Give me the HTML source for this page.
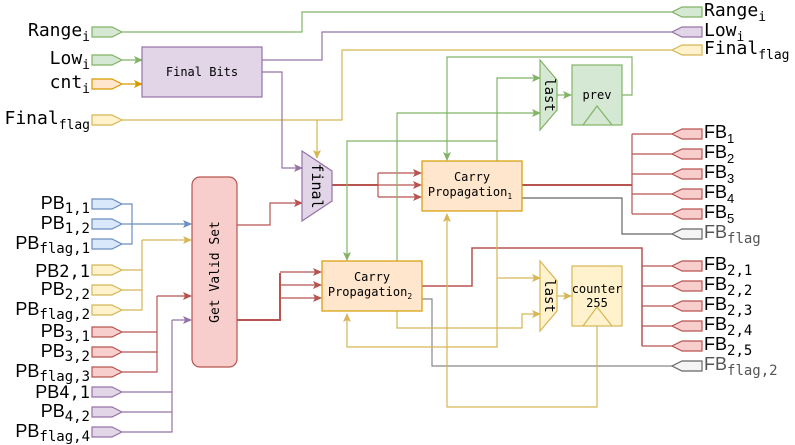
<!DOCTYPE html>
<html><head><meta charset="utf-8"><style>
html,body{margin:0;padding:0;background:#fff;}
svg{display:block;}
.m{font-family:"DejaVu Sans Mono","Liberation Mono",monospace;}
.s{font-family:"Liberation Sans","DejaVu Sans",sans-serif;}
</style></head><body>
<svg width="795" height="445" viewBox="0 0 795 445" xmlns="http://www.w3.org/2000/svg">
<defs>
<marker id="ag" markerWidth="10" markerHeight="10" refX="8" refY="5" orient="auto" markerUnits="userSpaceOnUse"><path d="M0,1 L9,5 L0,9 L2,5z" fill="#82b366"/></marker>
<marker id="ap" markerWidth="10" markerHeight="10" refX="8" refY="5" orient="auto" markerUnits="userSpaceOnUse"><path d="M0,1 L9,5 L0,9 L2,5z" fill="#9673a6"/></marker>
<marker id="ao" markerWidth="10" markerHeight="10" refX="8" refY="5" orient="auto" markerUnits="userSpaceOnUse"><path d="M0,1 L9,5 L0,9 L2,5z" fill="#d79b00"/></marker>
<marker id="ay" markerWidth="10" markerHeight="10" refX="8" refY="5" orient="auto" markerUnits="userSpaceOnUse"><path d="M0,1 L9,5 L0,9 L2,5z" fill="#d6b656"/></marker>
<marker id="ar" markerWidth="10" markerHeight="10" refX="8" refY="5" orient="auto" markerUnits="userSpaceOnUse"><path d="M0,1 L9,5 L0,9 L2,5z" fill="#b85450"/></marker>
<marker id="ab" markerWidth="10" markerHeight="10" refX="8" refY="5" orient="auto" markerUnits="userSpaceOnUse"><path d="M0,1 L9,5 L0,9 L2,5z" fill="#6c8ebf"/></marker>
</defs>

<g fill="none" stroke-width="1.2">
<path d="M122,32 H302 V12 H672" stroke="#82b366"/>
<path d="M262,60 H322 V32 H672" stroke="#9673a6"/>
<path d="M122,60 H142" stroke="#82b366" marker-end="url(#ag)"/>
<path d="M122,84 H142" stroke="#d79b00" marker-end="url(#ao)"/>
<path d="M122,120 H342 V50 H672" stroke="#d6b656"/>
<path d="M317,120 V158" stroke="#d6b656" marker-end="url(#ay)"/>
<path d="M262,72 H282 V168 H302" stroke="#9673a6" marker-end="url(#ap)"/>
<path d="M237,225 H270 V203 H302" stroke="#b85450" marker-end="url(#ar)"/>
<path d="M332,185 H378" stroke="#b85450" stroke-width="2"/>
<path d="M378,173 V197" stroke="#b85450"/>
<path d="M378,173 H421" stroke="#b85450" marker-end="url(#ar)"/>
<path d="M378,185 H421" stroke="#b85450" marker-end="url(#ar)"/>
<path d="M378,197 H421" stroke="#b85450" marker-end="url(#ar)"/>
<path d="M237,320 H280 V273" stroke="#b85450" stroke-width="2"/>
<path d="M280,272 H321" stroke="#b85450" marker-end="url(#ar)"/>
<path d="M280,285 H321" stroke="#b85450" marker-end="url(#ar)"/>
<path d="M280,298 H321" stroke="#b85450" marker-end="url(#ar)"/>
<path d="M622,95 H632 V57 H447 V160" stroke="#82b366" marker-end="url(#ag)"/>
<path d="M497,161 V78 H540" stroke="#82b366" marker-end="url(#ag)"/>
<path d="M497,141 H347 V260" stroke="#82b366" marker-end="url(#ag)"/>
<path d="M397,261 V113 H540" stroke="#82b366" marker-end="url(#ag)"/>
<path d="M557,95 H571" stroke="#82b366" marker-end="url(#ag)"/>
<path d="M522,185 H632" stroke="#b85450" stroke-width="2"/>
<path d="M632,134 V214 M632,134 H672 M632,154 H672 M632,174 H672 M632,194 H672 M632,214 H672" stroke="#b85450"/>
<path d="M522,198 H622 V234 H672" stroke="#666"/>
<path d="M422,286 H472 V248 H642 V346" stroke="#b85450" stroke-width="1.5"/>
<path d="M642,266 H672 M642,286 H672 M642,306 H672 M642,326 H672 M642,346 H672" stroke="#b85450"/>
<path d="M422,299 H432 V366 H672" stroke="#888"/>
<path d="M497,211 V347 H347 V314" stroke="#d6b656" marker-end="url(#ay)"/>
<path d="M497,278 H540" stroke="#d6b656" marker-end="url(#ay)"/>
<path d="M397,311 V328 H522 V314 H540" stroke="#d6b656" marker-end="url(#ay)"/>
<path d="M597,326 V407 H447 V214" stroke="#d6b656" marker-end="url(#ay)"/>
<path d="M557,296 H571" stroke="#d6b656" marker-end="url(#ay)"/>
<path d="M122,204 H132 V244 H122" stroke="#6c8ebf"/>
<path d="M132,224 H191" stroke="#6c8ebf" marker-end="url(#ab)"/>
<path d="M122,224 H132" stroke="#6c8ebf"/>
<path d="M122,270 H142 V310 H122 M122,290 H142 M142,240 V270" stroke="#d6b656"/>
<path d="M142,240 H191" stroke="#d6b656" marker-end="url(#ay)"/>
<path d="M122,332 H157 V372 H122 M122,352 H157 M157,296 V332" stroke="#b85450"/>
<path d="M157,296 H191" stroke="#b85450" marker-end="url(#ar)"/>
<path d="M122,392 H172 V432 H122 M122,412 H172 M172,320 V392" stroke="#9673a6"/>
<path d="M172,320 H191" stroke="#9673a6" marker-end="url(#ap)"/>
</g>

<g stroke-width="1.2">
<path d="M92,27 H112 L122,32 L112,37 H92z" fill="#d5e8d4" stroke="#82b366"/>
<path d="M92,55 H112 L122,60 L112,65 H92z" fill="#d5e8d4" stroke="#82b366"/>
<path d="M92,79 H112 L122,84 L112,89 H92z" fill="#ffe6cc" stroke="#d79b00"/>
<path d="M92,115 H112 L122,120 L112,125 H92z" fill="#fff2cc" stroke="#d6b656"/>
<path d="M92,199 H112 L122,204 L112,209 H92z" fill="#dae8fc" stroke="#6c8ebf"/>
<path d="M92,219 H112 L122,224 L112,229 H92z" fill="#dae8fc" stroke="#6c8ebf"/>
<path d="M92,239 H112 L122,244 L112,249 H92z" fill="#dae8fc" stroke="#6c8ebf"/>
<path d="M92,265 H112 L122,270 L112,275 H92z" fill="#fff2cc" stroke="#d6b656"/>
<path d="M92,285 H112 L122,290 L112,295 H92z" fill="#fff2cc" stroke="#d6b656"/>
<path d="M92,305 H112 L122,310 L112,315 H92z" fill="#fff2cc" stroke="#d6b656"/>
<path d="M92,327 H112 L122,332 L112,337 H92z" fill="#f8cecc" stroke="#b85450"/>
<path d="M92,347 H112 L122,352 L112,357 H92z" fill="#f8cecc" stroke="#b85450"/>
<path d="M92,367 H112 L122,372 L112,377 H92z" fill="#f8cecc" stroke="#b85450"/>
<path d="M92,387 H112 L122,392 L112,397 H92z" fill="#e1d5e7" stroke="#9673a6"/>
<path d="M92,407 H112 L122,412 L112,417 H92z" fill="#e1d5e7" stroke="#9673a6"/>
<path d="M92,427 H112 L122,432 L112,437 H92z" fill="#e1d5e7" stroke="#9673a6"/>
</g>
<g stroke-width="1.2">
<path d="M702,7 H682 L672,12 L682,17 H702z" fill="#d5e8d4" stroke="#82b366"/>
<path d="M702,27 H682 L672,32 L682,37 H702z" fill="#e1d5e7" stroke="#9673a6"/>
<path d="M702,45 H682 L672,50 L682,55 H702z" fill="#fff2cc" stroke="#d6b656"/>
<path d="M702,129 H682 L672,134 L682,139 H702z" fill="#f8cecc" stroke="#b85450"/>
<path d="M702,149 H682 L672,154 L682,159 H702z" fill="#f8cecc" stroke="#b85450"/>
<path d="M702,169 H682 L672,174 L682,179 H702z" fill="#f8cecc" stroke="#b85450"/>
<path d="M702,189 H682 L672,194 L682,199 H702z" fill="#f8cecc" stroke="#b85450"/>
<path d="M702,209 H682 L672,214 L682,219 H702z" fill="#f8cecc" stroke="#b85450"/>
<path d="M702,229 H682 L672,234 L682,239 H702z" fill="#f5f5f5" stroke="#666"/>
<path d="M702,261 H682 L672,266 L682,271 H702z" fill="#f8cecc" stroke="#b85450"/>
<path d="M702,281 H682 L672,286 L682,291 H702z" fill="#f8cecc" stroke="#b85450"/>
<path d="M702,301 H682 L672,306 L682,311 H702z" fill="#f8cecc" stroke="#b85450"/>
<path d="M702,321 H682 L672,326 L682,331 H702z" fill="#f8cecc" stroke="#b85450"/>
<path d="M702,341 H682 L672,346 L682,351 H702z" fill="#f8cecc" stroke="#b85450"/>
<path d="M702,361 H682 L672,366 L682,371 H702z" fill="#f5f5f5" stroke="#666"/>
</g>

<rect x="142" y="47" width="120" height="50" fill="#e1d5e7" stroke="#9673a6" stroke-width="1.2"/>
<text x="202" y="76" class="m" font-size="12" text-anchor="middle">Final Bits</text>

<path d="M302,151 L332,171 V201 L302,221z" fill="#e1d5e7" stroke="#9673a6" stroke-width="1.2"/>
<text class="m" font-size="15" transform="translate(312,186) rotate(90)" text-anchor="middle">final</text>

<rect x="192" y="177" width="45" height="190" rx="8" fill="#f8cecc" stroke="#b85450" stroke-width="1.2"/>
<text class="m" font-size="13" transform="translate(219,272) rotate(-90)" text-anchor="middle">Get Valid Set</text>

<rect x="422" y="161" width="100" height="50" fill="#ffe6cc" stroke="#d79b00" stroke-width="1.2"/>
<text x="472" y="181" class="m" font-size="12" text-anchor="middle">Carry</text>
<text x="470" y="196" class="m" font-size="12" text-anchor="middle">Propagation<tspan font-size="8" dy="3">1</tspan></text>

<rect x="322" y="261" width="100" height="50" fill="#ffe6cc" stroke="#d79b00" stroke-width="1.2"/>
<text x="372" y="281" class="m" font-size="12" text-anchor="middle">Carry</text>
<text x="370" y="296" class="m" font-size="12" text-anchor="middle">Propagation<tspan font-size="8" dy="3">2</tspan></text>

<path d="M540,60 L557,80 V110 L540,130z" fill="#d5e8d4" stroke="#82b366" stroke-width="1.2"/>
<text class="m" font-size="14" transform="translate(545,95) rotate(90)" text-anchor="middle">last</text>
<rect x="572" y="65" width="50" height="60" fill="#d5e8d4" stroke="#82b366" stroke-width="1.2"/>
<text x="597" y="99" class="m" font-size="12" text-anchor="middle">prev</text>
<path d="M583,125 L597,106 L612,125" fill="none" stroke="#82b366" stroke-width="1.2"/>

<path d="M540,261 L557,281 V311 L540,331z" fill="#fff2cc" stroke="#d6b656" stroke-width="1.2"/>
<text class="m" font-size="14" transform="translate(545,296) rotate(90)" text-anchor="middle">last</text>
<rect x="572" y="266" width="50" height="60" fill="#fff2cc" stroke="#d6b656" stroke-width="1.2"/>
<text x="597" y="293" class="m" font-size="12" text-anchor="middle">counter</text>
<text x="597" y="307" class="m" font-size="12" text-anchor="middle">255</text>
<path d="M583,326 L597,307 L612,326" fill="none" stroke="#d6b656" stroke-width="1.2"/>

<g class="m" font-size="18" text-anchor="end" fill="#000">
<text x="90" y="36">Range<tspan font-size="13" dy="5">i</tspan></text>
<text x="90" y="64">Low<tspan font-size="13" dy="5">i</tspan></text>
<text x="90" y="88">cnt<tspan font-size="13" dy="5">i</tspan></text>
<text x="90" y="124">Final<tspan font-size="13" dy="5">flag</tspan></text>
</g>
<g class="s" font-size="18" text-anchor="end" fill="#000">
<text x="90" y="209">PB<tspan class="m" font-size="14" dy="4">1,1</tspan></text>
<text x="90" y="229">PB<tspan class="m" font-size="14" dy="4">1,2</tspan></text>
<text x="90" y="249">PB<tspan class="m" font-size="14" dy="4">flag,1</tspan></text>
<text x="90" y="277">PB<tspan class="m" font-size="17">2,1</tspan></text>
<text x="90" y="295">PB<tspan class="m" font-size="14" dy="4">2,2</tspan></text>
<text x="90" y="315">PB<tspan class="m" font-size="14" dy="4">flag,2</tspan></text>
<text x="90" y="337">PB<tspan class="m" font-size="14" dy="4">3,1</tspan></text>
<text x="90" y="357">PB<tspan class="m" font-size="14" dy="4">3,2</tspan></text>
<text x="90" y="377">PB<tspan class="m" font-size="14" dy="4">flag,3</tspan></text>
<text x="90" y="398">PB<tspan class="m" font-size="17">4,1</tspan></text>
<text x="90" y="417">PB<tspan class="m" font-size="14" dy="4">4,2</tspan></text>
<text x="90" y="437">PB<tspan class="m" font-size="14" dy="4">flag,4</tspan></text>
</g>
<g class="m" font-size="18" fill="#000">
<text x="704" y="16">Range<tspan font-size="13" dy="5">i</tspan></text>
<text x="704" y="36">Low<tspan font-size="13" dy="5">i</tspan></text>
<text x="704" y="54">Final<tspan font-size="13" dy="5">flag</tspan></text>
</g>
<g class="s" font-size="18" fill="#000">
<text x="704" y="138">FB<tspan font-size="13" dy="5">1</tspan></text>
<text x="704" y="158">FB<tspan font-size="13" dy="5">2</tspan></text>
<text x="704" y="178">FB<tspan font-size="13" dy="5">3</tspan></text>
<text x="704" y="198">FB<tspan font-size="13" dy="5">4</tspan></text>
<text x="704" y="218">FB<tspan font-size="13" dy="5">5</tspan></text>
<text x="704" y="238" fill="#555">FB<tspan class="m" font-size="14" dy="5">flag</tspan></text>
<text x="704" y="270">FB<tspan class="m" font-size="14" dy="5">2,1</tspan></text>
<text x="704" y="290">FB<tspan class="m" font-size="14" dy="5">2,2</tspan></text>
<text x="704" y="310">FB<tspan class="m" font-size="14" dy="5">2,3</tspan></text>
<text x="704" y="330">FB<tspan class="m" font-size="14" dy="5">2,4</tspan></text>
<text x="704" y="350">FB<tspan class="m" font-size="14" dy="5">2,5</tspan></text>
<text x="704" y="370" fill="#555">FB<tspan class="m" font-size="14" dy="5">flag,2</tspan></text>
</g>
</svg>
</body></html>
